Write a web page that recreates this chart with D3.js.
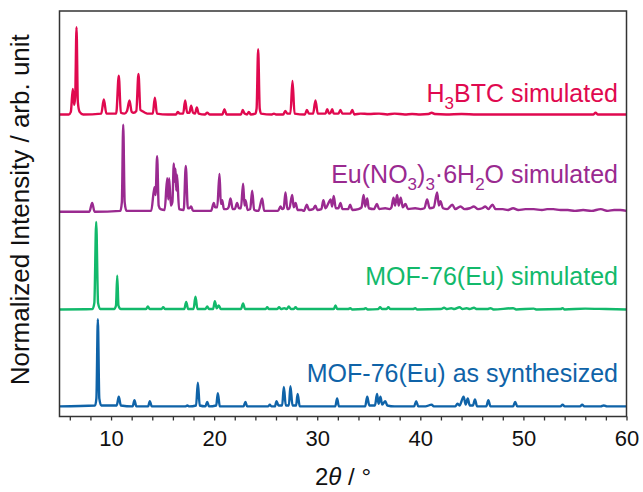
<!DOCTYPE html>
<html>
<head>
<meta charset="utf-8">
<script src="https://cdn.jsdelivr.net/npm/d3@7/dist/d3.min.js"></script>
<style>
  html, body { margin: 0; padding: 0; background: #fff; }
  svg { display: block; }
  text { font-family: "Liberation Sans", Arial, Helvetica, sans-serif; }
</style>
</head>
<body>
<svg id="chart" width="643" height="492"></svg>
<script>
// PXRD patterns, [2θ (°), normalized intensity]
const h3btcPattern = [
  [5.0,0.01],[5.9,0.01],[6.1,0.04],[6.29,0.30],[6.42,0.12],[6.52,0.2],[6.65,1.0],[6.78,0.15],[6.95,0.04],[7.3,0.01],
  [9.05,0.02],[9.3,0.18],[9.55,0.02],[10.5,0.02],[10.75,0.45],[10.95,0.03],[11.3,0.02],[11.55,0.05],[11.79,0.17],[12.0,0.04],
  [12.2,0.03],[12.45,0.05],[12.66,0.47],[12.85,0.06],[13.0,0.05],[13.3,0.03],[13.5,0.02],[14.05,0.02],[14.25,0.20],[14.45,0.02],
  [15.5,0.01],[16.3,0.01],[16.47,0.04],[16.65,0.02],[17.0,0.02],[17.19,0.17],[17.38,0.03],[17.6,0.03],[17.77,0.11],[17.95,0.03],
  [18.15,0.02],[18.32,0.09],[18.5,0.02],[19.1,0.01],[19.33,0.03],[19.55,0.01],[20.8,0.01],[21.0,0.07],[21.2,0.01],[22.6,0.01],
  [22.78,0.06],[22.95,0.02],[23.2,0.01],[23.36,0.04],[23.55,0.01],[24.0,0.02],[24.12,0.08],[24.27,0.75],[24.42,0.08],[24.55,0.02],
  [25.6,0.01],[25.8,0.02],[26.0,0.01],[26.7,0.01],[26.9,0.05],[27.1,0.02],[27.4,0.02],[27.6,0.39],[27.8,0.02],[28.8,0.01],
  [29.0,0.06],[29.2,0.02],[29.6,0.02],[29.83,0.17],[30.05,0.02],[30.8,0.02],[30.97,0.07],[31.15,0.02],[31.3,0.03],[31.45,0.07],
  [31.6,0.02],[32.05,0.02],[32.25,0.06],[32.45,0.02],[33.2,0.02],[33.4,0.06],[33.6,0.01],[34.2,0.02],[35.0,0.015],[36.0,0.02],
  [36.8,0.01],[37.5,0.02],[38.5,0.01],[39.2,0.015],[40.0,0.01],[40.8,0.015],[41.1,0.03],[41.4,0.015],[42.5,0.01],[44.0,0.015],
  [45.5,0.01],[47.0,0.01],[49.0,0.01],[51.0,0.01],[53.0,0.01],[55.0,0.01],[56.8,0.01],[57.0,0.03],[57.2,0.01],[60.0,0.01]
];

const euNitratePattern = [
  [5.0,0.01],[7.9,0.01],[8.17,0.11],[8.4,0.01],[10.9,0.02],[11.05,0.12],[11.18,1.0],[11.32,0.12],[11.5,0.02],[13.9,0.02],
  [14.21,0.29],[14.32,0.2],[14.47,0.64],[14.62,0.08],[14.8,0.04],[15.2,0.03],[15.45,0.39],[15.55,0.15],[15.64,0.39],[15.8,0.08],
  [15.95,0.12],[16.09,0.56],[16.17,0.35],[16.25,0.5],[16.33,0.25],[16.4,0.43],[16.6,0.04],[17.05,0.03],[17.25,0.53],[17.45,0.05],
  [17.6,0.05],[17.77,0.07],[17.95,0.02],[19.7,0.02],[19.97,0.11],[20.1,0.06],[20.3,0.06],[20.52,0.44],[20.65,0.1],[20.78,0.14],
  [20.95,0.04],[21.2,0.04],[21.4,0.06],[21.59,0.16],[21.8,0.04],[22.0,0.04],[22.23,0.11],[22.4,0.05],[22.6,0.05],[22.81,0.33],
  [22.95,0.08],[23.04,0.14],[23.25,0.03],[23.5,0.04],[23.69,0.25],[23.88,0.03],[24.3,0.02],[24.66,0.16],[24.85,0.02],[26.2,0.02],
  [26.44,0.07],[26.6,0.04],[26.75,0.05],[26.92,0.23],[27.1,0.04],[27.3,0.05],[27.57,0.20],[27.72,0.06],[27.9,0.11],[28.1,0.03],
  [28.5,0.03],[28.7,0.02],[29.0,0.09],[29.2,0.03],[29.6,0.04],[29.83,0.08],[30.0,0.03],[30.4,0.04],[30.6,0.14],[30.8,0.05],
  [31.1,0.11],[31.3,0.15],[31.45,0.07],[31.6,0.19],[31.8,0.05],[32.05,0.05],[32.25,0.11],[32.45,0.04],[33.0,0.04],[33.2,0.09],
  [33.4,0.03],[34.0,0.04],[34.3,0.06],[34.5,0.20],[34.65,0.07],[34.85,0.16],[35.0,0.05],[35.5,0.04],[35.8,0.10],[36.0,0.04],
  [36.6,0.05],[37.0,0.04],[37.2,0.06],[37.4,0.17],[37.55,0.08],[37.75,0.20],[37.9,0.08],[38.1,0.17],[38.3,0.06],[38.56,0.10],
  [38.8,0.04],[39.5,0.05],[40.0,0.04],[40.4,0.05],[40.66,0.15],[40.9,0.05],[41.3,0.06],[41.63,0.23],[41.8,0.08],[41.95,0.13],
  [42.2,0.05],[42.6,0.04],[43.1,0.09],[43.4,0.04],[43.9,0.07],[44.3,0.04],[44.8,0.05],[45.2,0.07],[45.6,0.04],[46.0,0.05],
  [46.3,0.07],[46.6,0.04],[47.0,0.09],[47.3,0.04],[48.0,0.04],[48.5,0.03],[49.0,0.05],[49.5,0.03],[50.2,0.04],[51.0,0.04],
  [51.8,0.03],[52.3,0.04],[52.9,0.04],[53.6,0.03],[54.3,0.03],[55.0,0.02],[55.8,0.03],[56.6,0.02],[57.5,0.04],[58.2,0.02],
  [58.8,0.03],[59.4,0.03],[60.0,0.02]
];

const mofSimPattern = [
  [5.0,0.005],[8.2,0.01],[8.38,0.08],[8.56,1.0],[8.74,0.08],[8.95,0.01],[10.3,0.01],[10.48,0.05],[10.6,0.39],[10.72,0.05],
  [10.95,0.01],[13.4,0.01],[13.57,0.04],[13.75,0.01],[14.9,0.01],[15.06,0.03],[15.25,0.01],[17.1,0.01],[17.29,0.09],[17.48,0.01],
  [18.0,0.01],[18.19,0.15],[18.38,0.01],[19.15,0.01],[19.33,0.04],[19.5,0.01],[19.9,0.01],[20.07,0.10],[20.25,0.02],[20.45,0.05],
  [20.65,0.01],[22.6,0.01],[22.81,0.075],[23.0,0.01],[25.0,0.01],[25.15,0.03],[25.3,0.01],[26.1,0.01],[26.3,0.03],[26.5,0.01],
  [26.8,0.02],[27.05,0.01],[27.24,0.04],[27.45,0.01],[27.7,0.01],[27.9,0.03],[28.1,0.01],[31.6,0.01],[31.77,0.05],[31.95,0.01],
  [33.0,0.01],[33.2,0.02],[33.4,0.005],[34.5,0.01],[34.7,0.02],[34.9,0.005],[35.9,0.01],[36.1,0.03],[36.3,0.01],[36.7,0.01],
  [36.9,0.03],[37.1,0.01],[39.3,0.01],[39.5,0.02],[39.7,0.005],[42.0,0.01],[42.3,0.025],[42.6,0.01],[43.0,0.02],[43.3,0.01],
  [43.8,0.03],[44.1,0.01],[44.5,0.02],[44.8,0.01],[45.2,0.025],[45.5,0.01],[46.5,0.01],[46.8,0.02],[47.1,0.005],[49.0,0.02],
  [49.3,0.005],[51.0,0.015],[51.3,0.005],[53.6,0.01],[53.8,0.02],[54.0,0.005],[56.0,0.015],[58.0,0.01],[60.0,0.005]
];

const mofSynthPattern = [
  [5.0,0.01],[8.45,0.02],[8.58,0.1],[8.72,1.0],[8.86,0.1],[9.05,0.02],[10.55,0.02],[10.75,0.12],[10.95,0.02],[12.1,0.01],
  [12.27,0.08],[12.45,0.01],[13.6,0.01],[13.76,0.07],[13.95,0.01],[16.0,0.01],[17.2,0.01],[17.4,0.02],[17.6,0.01],[18.25,0.02],
  [18.42,0.28],[18.6,0.02],[19.15,0.01],[19.33,0.06],[19.5,0.01],[20.2,0.02],[20.36,0.16],[20.55,0.01],[22.85,0.01],[23.04,0.06],
  [23.2,0.01],[25.25,0.01],[25.4,0.03],[25.55,0.01],[25.9,0.01],[26.05,0.07],[26.25,0.02],[26.6,0.02],[26.76,0.23],[26.95,0.02],
  [27.25,0.02],[27.4,0.24],[27.6,0.02],[27.95,0.02],[28.1,0.15],[28.3,0.01],[30.0,0.01],[31.75,0.01],[31.93,0.10],[32.1,0.01],
  [34.65,0.01],[34.85,0.12],[35.05,0.02],[35.6,0.02],[35.8,0.15],[35.95,0.04],[36.13,0.12],[36.3,0.03],[36.6,0.07],[36.8,0.02],
  [37.5,0.01],[39.4,0.01],[39.6,0.07],[39.8,0.01],[40.5,0.01],[41.1,0.03],[41.3,0.01],[43.4,0.01],[43.6,0.04],[43.8,0.02],
  [44.2,0.12],[44.4,0.03],[44.6,0.10],[44.8,0.02],[45.1,0.02],[45.3,0.09],[45.5,0.01],[46.4,0.01],[46.6,0.08],[46.8,0.01],
  [48.0,0.01],[49.0,0.01],[49.2,0.06],[49.4,0.01],[51.0,0.01],[53.6,0.01],[53.8,0.03],[54.0,0.01],[55.5,0.01],[55.7,0.03],
  [55.9,0.01],[57.5,0.01],[57.8,0.02],[58.1,0.01],[60.0,0.01]
];

// vertical stacking offsets, bottom to top, in normalized-intensity units
const stackOffsets = [0, 1.105, 2.21, 3.315];

const xTickValues = d3.range(6, 61, 2);
const xTickLabels = [10, 20, 30, 40, 50, 60];

const series = [
  { pattern: mofSynthPattern, offset: stackOffsets[0], color: "#0f63a8" },
  { pattern: mofSimPattern,   offset: stackOffsets[1], color: "#12b96b" },
  { pattern: euNitratePattern, offset: stackOffsets[2], color: "#9a2a90" },
  { pattern: h3btcPattern,    offset: stackOffsets[3], color: "#e0094f" }
];

const svg = d3.select("#chart");
const plotLeft = 59.5, plotRight = 626.5, plotTop = 11, plotBottom = 416.5;

const x = d3.scaleLinear().domain([5, 60]).range([plotLeft, plotRight]);
const y = d3.scaleLinear().domain([-0.105, 4.5]).range([plotBottom, plotTop]);

svg.append("defs").append("clipPath").attr("id", "plot-clip")
  .append("rect").attr("x", plotLeft).attr("y", plotTop)
  .attr("width", plotRight - plotLeft).attr("height", plotBottom - plotTop);

const line = d3.line()
  .x(d => x(d[0]))
  .curve(d3.curveMonotoneX);

const plot = svg.append("g").attr("clip-path", "url(#plot-clip)");
series.forEach(s => {
  plot.append("path")
    .datum(s.pattern)
    .attr("fill", "none")
    .attr("stroke", s.color)
    .attr("stroke-width", 2.4)
    .attr("stroke-linejoin", "round")
    .attr("d", line.y(d => y(d[1] + s.offset)));
});

// x axis ticks
const xAxis = d3.axisBottom(x)
  .tickValues(xTickValues)
  .tickSize(4)
  .tickPadding(10)
  .tickFormat(d => xTickLabels.includes(d) ? d : "");

const gx = svg.append("g")
  .attr("transform", `translate(0,${plotBottom})`)
  .call(xAxis);
gx.select(".domain").remove();
gx.selectAll(".tick line").attr("stroke", "#333").attr("stroke-width", 1.3);
gx.selectAll(".tick text")
  .attr("fill", "#111")
  .style("font-size", "22px")
  .style("font-family", "'Liberation Sans', Arial, sans-serif");

// frame
svg.append("rect")
  .attr("x", plotLeft).attr("y", plotTop)
  .attr("width", plotRight - plotLeft).attr("height", plotBottom - plotTop)
  .attr("fill", "none")
  .attr("stroke", "#333")
  .attr("stroke-width", 1.5);

// series labels
const labelX = 618;
const labelSize = 25;
const subSize = 17;

function addLabel(yPos, color, parts) {
  const t = svg.append("text")
    .attr("x", labelX).attr("y", yPos)
    .attr("text-anchor", "end")
    .attr("fill", color)
    .style("font-size", labelSize + "px");
  let lowered = false;
  parts.forEach(p => {
    const ts = t.append("tspan").text(p.t);
    if (p.sub) {
      ts.style("font-size", subSize + "px");
      if (!lowered) { ts.attr("dy", 7); lowered = true; }
    } else if (lowered) {
      ts.attr("dy", -7); lowered = false;
    }
  });
}

addLabel(102, "#e0094f", [
  { t: "H" }, { t: "3", sub: true }, { t: "BTC simulated" }
]);
addLabel(183, "#9a2a90", [
  { t: "Eu(NO" }, { t: "3", sub: true }, { t: ")" }, { t: "3", sub: true },
  { t: "·6H" }, { t: "2", sub: true }, { t: "O simulated" }
]);
addLabel(285, "#12b96b", [{ t: "MOF-76(Eu) simulated" }]);
addLabel(382, "#0f63a8", [{ t: "MOF-76(Eu) as synthesized" }]);

// axis titles
const xTitle = svg.append("text")
  .attr("x", (plotLeft + plotRight) / 2).attr("y", 485)
  .attr("text-anchor", "middle")
  .attr("fill", "#111")
  .style("font-size", "24px");
xTitle.append("tspan").text("2");
xTitle.append("tspan").style("font-style", "italic").text("θ");
xTitle.append("tspan").text(" / °");

svg.append("text")
  .attr("transform", `translate(29,${(plotTop + plotBottom) / 2 - 4}) rotate(-90)`)
  .attr("text-anchor", "middle")
  .attr("fill", "#111")
  .style("font-size", "26px")
  .text("Normalized Intensity / arb. unit");
</script>
</body>
</html>
